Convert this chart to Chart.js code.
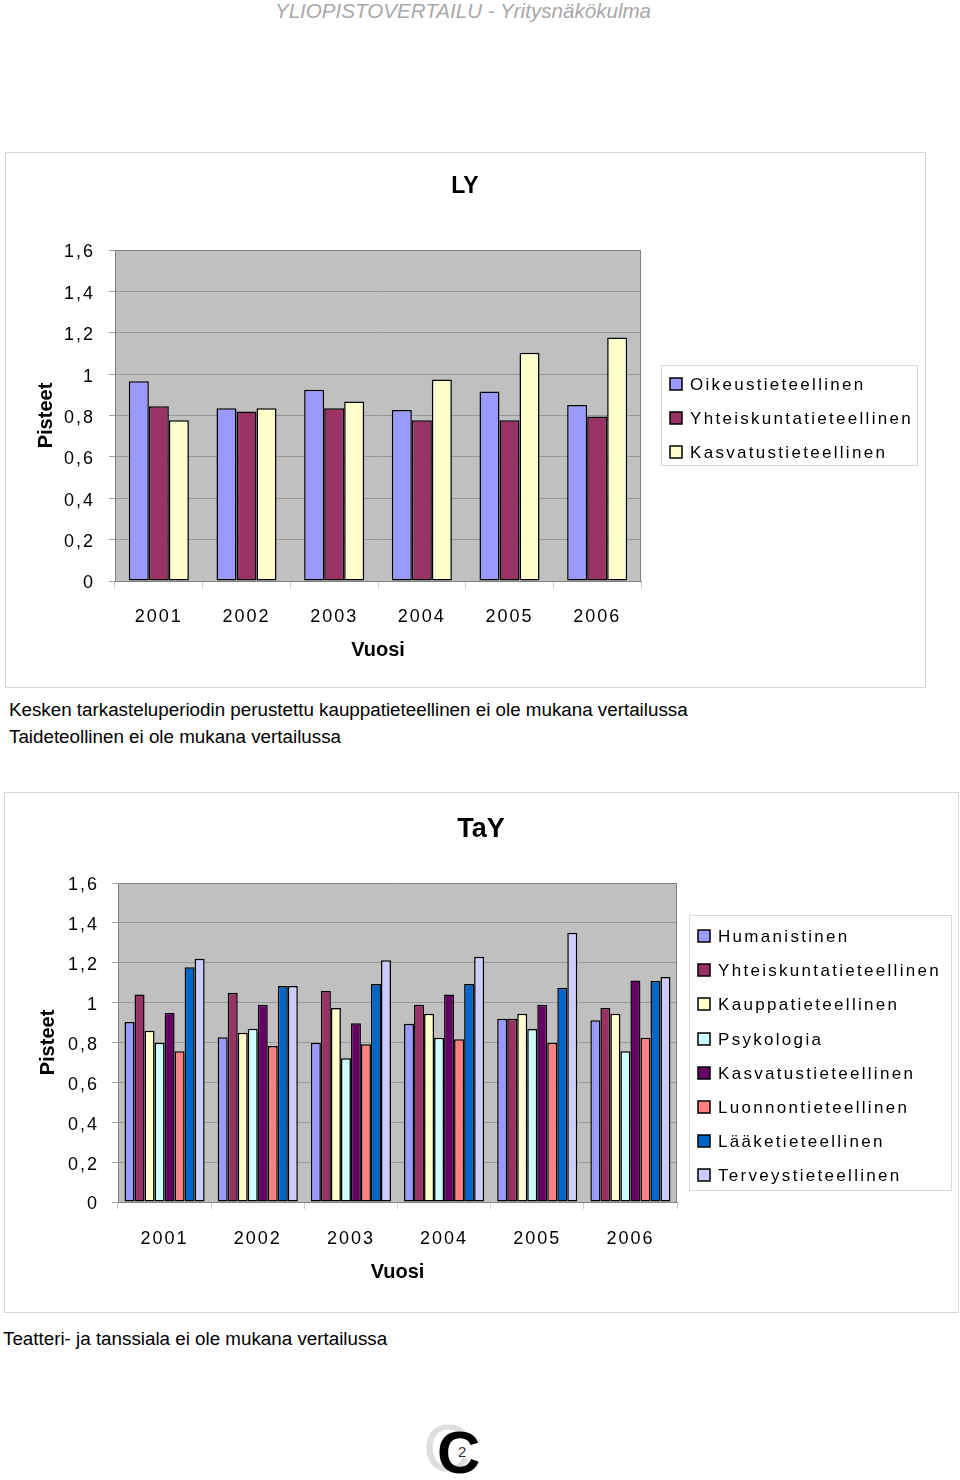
<!DOCTYPE html>
<html>
<head>
<meta charset="utf-8">
<script src="https://cdn.jsdelivr.net/npm/chart.js@4.4.1/dist/chart.umd.min.js"></script>
<style>
  body { margin: 0; width: 960px; height: 1480px; position: relative; background: #fff; overflow: hidden;
         font-family: 'Liberation Sans', Arial, sans-serif; }
  .header { position: absolute; left: 0; top: 0; width: 926px; text-align: center; line-height: 22px;
            font-size: 20.6px; font-style: italic; color: #a8a8a8; }
  .frame { position: absolute; border: 1px solid #d6d6d6; box-sizing: border-box; pointer-events: none; }
  .chart { position: absolute; }
  .note { position: absolute; font-size: 18.8px; line-height: 20px; color: #000; white-space: nowrap; }
  .logo { position: absolute; line-height: 1; }
</style>
</head>
<body>
<div class="header">YLIOPISTOVERTAILU - Yritysnäkökulma</div>

<canvas id="ly-chart" class="chart" width="920" height="535" style="left:5px;top:152px"></canvas>
<div class="frame" style="left:5px;top:152px;width:921px;height:536px"></div>

<div class="note" style="left:9px;top:700px">Kesken tarkasteluperiodin perustettu kauppatieteellinen ei ole mukana vertailussa</div>
<div class="note" style="left:9px;top:727px">Taideteollinen ei ole mukana vertailussa</div>

<canvas id="tay-chart" class="chart" width="954" height="520" style="left:4px;top:792px"></canvas>
<div class="frame" style="left:4px;top:792px;width:955px;height:521px"></div>

<div class="note" style="left:3px;top:1329px">Teatteri- ja tanssiala ei ole mukana vertailussa</div>

<div class="logo" style="left:423px;top:1415px;font-size:66px;color:#dddddd">C</div>
<div class="logo" style="left:437px;top:1423px;font-size:60px;font-weight:bold;color:#000">C</div>
<div class="logo" style="left:458px;top:1444px;font-size:15px;color:#333">2</div>

<script>
// Vuodet ja y-akselin tikit
const years = ['2001', '2002', '2003', '2004', '2005', '2006'];
const yTickLabels = ['0', '0,2', '0,4', '0,6', '0,8', '1', '1,2', '1,4', '1,6'];

// LY
const lyLabels = ['Oikeustieteellinen', 'Yhteiskuntatieteellinen', 'Kasvatustieteellinen'];
const lyColors = ['#9999FF', '#993366', '#FFFFCC'];
const lyOikeus = [0.965, 0.835, 0.924, 0.827, 0.916, 0.851];
const lyYhteiskunta = [0.845, 0.819, 0.835, 0.777, 0.777, 0.795];
const lyKasvatus = [0.777, 0.835, 0.868, 0.974, 1.103, 1.177];

// TaY
const tayLabels = ['Humanistinen', 'Yhteiskuntatieteellinen', 'Kauppatieteellinen', 'Psykologia',
                   'Kasvatustieteellinen', 'Luonnontieteellinen', 'Lääketieteellinen', 'Terveystieteellinen'];
const tayColors = ['#9999FF', '#993366', '#FFFFCC', '#CCFFFF', '#660066', '#FF8080', '#0066CC', '#CCCCFF'];
const tayHumanistinen = [0.903, 0.826, 0.799, 0.894, 0.919, 0.911];
const tayYhteiskunta = [1.041, 1.049, 1.058, 0.989, 0.919, 0.973];
const tayKauppa = [0.859, 0.849, 0.973, 0.944, 0.944, 0.944];
const tayPsykologia = [0.799, 0.869, 0.721, 0.824, 0.868, 0.756];
const tayKasvatus = [0.948, 0.989, 0.896, 1.041, 0.989, 1.111];
const tayLuonnon = [0.756, 0.782, 0.791, 0.816, 0.799, 0.824];
const tayLaake = [1.178, 1.083, 1.093, 1.093, 1.074, 1.109];
const tayTerveys = [1.220, 1.083, 1.213, 1.230, 1.351, 1.128];

const FONT = "'Liberation Sans', Arial, sans-serif";

// harmaa piirtoalue, tikkien kirjainväli ja reunaviiva
const plotStyle = {
    id: 'plotStyle',
    beforeDraw(chart) {
        const { ctx, chartArea: a } = chart;
        ctx.letterSpacing = '0px';
        ctx.save();
        ctx.fillStyle = '#c0c0c0';
        ctx.fillRect(a.left, a.top, a.width, a.height);
        ctx.restore();
    },
    afterDatasetsDraw(chart) {
        chart.ctx.letterSpacing = '2px';
    },
    afterDraw(chart) {
        const { ctx, chartArea: a } = chart;
        ctx.letterSpacing = '0px';
        ctx.save();
        ctx.strokeStyle = '#808080';
        ctx.lineWidth = 1;
        ctx.beginPath();
        ctx.moveTo(a.left, a.top + 0.5);
        ctx.lineTo(a.right - 0.5, a.top + 0.5);
        ctx.lineTo(a.right - 0.5, a.bottom);
        ctx.stroke();
        ctx.restore();
    }
};

// selite laatikossa oikealla
const boxLegend = {
    id: 'boxLegend',
    afterDraw(chart, args, o) {
        const ctx = chart.ctx;
        ctx.save();
        ctx.strokeStyle = '#dadada';
        ctx.lineWidth = 1;
        ctx.strokeRect(o.x + 0.5, o.y + 0.5, o.w, o.h);
        ctx.font = '17px ' + FONT;
        ctx.textBaseline = 'middle';
        ctx.letterSpacing = '2.3px';
        chart.data.datasets.forEach((ds, i) => {
            const cy = Math.round(o.y + o.first + i * o.step);
            ctx.fillStyle = ds.backgroundColor;
            ctx.fillRect(o.sx, cy - 6, 12, 12);
            ctx.strokeStyle = '#000';
            ctx.lineWidth = 1.5;
            ctx.strokeRect(o.sx, cy - 6, 12, 12);
            ctx.fillStyle = '#000';
            ctx.fillText(ds.label, o.tx, cy + 1);
        });
        ctx.restore();
    }
};

function makeDatasets(labels, colors, series) {
    return series.map((values, i) => ({
        label: labels[i],
        data: values,
        yAxisID: 'y',
        backgroundColor: colors[i],
        borderColor: '#000',
        borderWidth: 1.5,
        borderSkipped: false
    }));
}

function createChart(canvasId, cfg) {
    const tickFont = { family: FONT, size: 18 };
    const axisTitleFont = { family: FONT, size: 20, weight: 'bold' };
    new Chart(document.getElementById(canvasId), {
        type: 'bar',
        data: { labels: years, datasets: cfg.datasets },
        options: {
            responsive: false,
            animation: false,
            devicePixelRatio: 1,
            categoryPercentage: cfg.catPct,
            barPercentage: 1,
            layout: { padding: 0 },
            scales: {
                x: {
                    grid: { offset: true, drawOnChartArea: false, color: '#cccccc', tickLength: 7 },
                    border: { color: '#808080' },
                    ticks: { font: tickFont, color: '#000', padding: cfg.xTickPad, z: 1, maxRotation: 0 },
                    title: { display: true, text: 'Vuosi', font: axisTitleFont, color: '#000',
                             padding: { top: 0, bottom: cfg.xTitlePad } },
                    afterFit(s) { s.height = cfg.xHeight; }
                },
                y: {
                    min: 0,
                    max: 1.6,
                    grid: { color: '#999999', tickColor: '#a0a0a0', tickLength: 6 },
                    border: { color: '#808080' },
                    ticks: { stepSize: 0.2, font: tickFont, color: '#000', padding: cfg.yTickPad, z: 1,
                             labelOffset: 2.5, callback: (v, i) => yTickLabels[i] },
                    title: { display: true, text: 'Pisteet', font: axisTitleFont, color: '#000',
                             padding: { top: cfg.yTitlePad, bottom: 0 } },
                    afterFit(s) { s.width = cfg.yWidth; }
                },
                // tyhjä tila selitteelle, jotta otsikko keskittyy koko kuvaan
                legendSpace: {
                    type: 'linear',
                    position: 'right',
                    grid: { display: false, drawTicks: false },
                    border: { display: false },
                    ticks: { display: false },
                    afterFit(s) { s.width = cfg.padRight; }
                }
            },
            plugins: {
                legend: { display: false },
                tooltip: { enabled: false },
                title: {
                    display: true,
                    text: cfg.title,
                    color: '#000',
                    font: { family: FONT, size: cfg.titleSize, weight: 'bold' },
                    padding: { top: cfg.titleTop, bottom: cfg.titleBottom }
                },
                boxLegend: cfg.legend
            }
        },
        plugins: [plotStyle, boxLegend]
    });
}

createChart('ly-chart', {
    title: 'LY',
    titleSize: 23,
    titleTop: 21,
    titleBottom: 49.4,
    datasets: makeDatasets(lyLabels, lyColors, [lyOikeus, lyYhteiskunta, lyKasvatus]),
    catPct: 0.685,
    padRight: 284,
    xHeight: 106,
    xTickPad: 18,
    xTitlePad: 25,
    yWidth: 110,
    yTickPad: 14,
    yTitlePad: 29,
    legend: { x: 656, y: 213, w: 256, h: 100, first: 19, step: 34, sx: 665, tx: 685 }
});

createChart('tay-chart', {
    title: 'TaY',
    titleSize: 27,
    titleTop: 21.8,
    titleBottom: 36.8,
    datasets: makeDatasets(tayLabels, tayColors,
        [tayHumanistinen, tayYhteiskunta, tayKauppa, tayPsykologia, tayKasvatus, tayLuonnon, tayLaake, tayTerveys]),
    catPct: 0.86,
    padRight: 281,
    xHeight: 110,
    xTickPad: 19,
    xTitlePad: 28,
    yWidth: 114,
    yTickPad: 13,
    yTitlePad: 32,
    legend: { x: 685, y: 123, w: 262, h: 275, first: 21, step: 34.2, sx: 694, tx: 714 }
});
</script>
</body>
</html>
